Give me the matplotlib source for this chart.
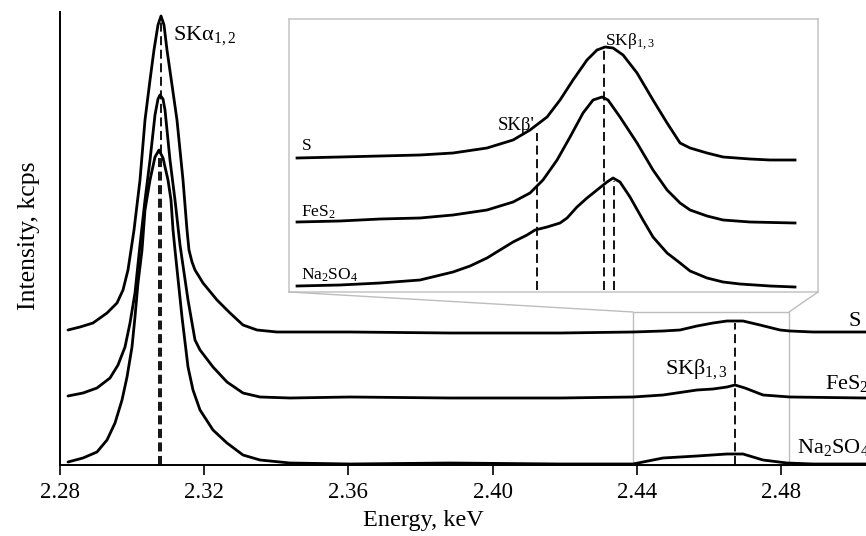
import numpy as np
import matplotlib
matplotlib.use("Agg")
import matplotlib.pyplot as plt
from matplotlib.patches import Rectangle, ConnectionPatch

plt.rcParams['font.family'] = 'Liberation Serif'
plt.rcParams['mathtext.fontset'] = 'custom'
plt.rcParams['mathtext.rm'] = 'Liberation Serif'
plt.rcParams['mathtext.it'] = 'Liberation Serif:italic'
plt.rcParams['mathtext.bf'] = 'Liberation Serif:bold'

# ---- survey spectra (Ka + Kb region), energy in keV, intensity in a.u. ----
s_energy = [2.28222, 2.28555, 2.28915, 2.29304, 2.29581, 2.29748, 2.29886, 2.29970,
            2.30053, 2.30219, 2.30358, 2.30497, 2.30607, 2.30718, 2.30802, 2.30885,
            2.30968, 2.31107, 2.31245, 2.31412, 2.31523, 2.31578, 2.31662, 2.31745,
            2.31967, 2.32355, 2.32716, 2.33076, 2.33465, 2.34019, 2.36044, 2.38818,
            2.41870, 2.43895, 2.44727, 2.45198, 2.45670, 2.46114, 2.46502, 2.46946,
            2.47417, 2.47972, 2.48250, 2.48888, 2.50358]
s_int = [0.2, 0.5, 0.9, 1.9, 2.9, 4.2, 6.2, 8.2,
         10.2, 15.2, 21.2, 25.2, 28.2, 30.7, 31.6, 30.7,
         28.2, 24.7, 21.2, 15.2, 10.2, 8.2, 7.0, 6.2,
         4.9, 3.2, 1.9, 0.7, 0.2, 0.0, 0.0, -0.1,
         -0.1, 0.0, 0.1, 0.2, 0.6, 0.9, 1.1, 1.1,
         0.7, 0.2, 0.1, 0.0, 0.0]

fes2_energy = [2.28222, 2.28638, 2.29026, 2.29387, 2.29609, 2.29803, 2.29942, 2.30080,
               2.30219, 2.30358, 2.30497, 2.30635, 2.30718, 2.30774, 2.30857, 2.30913,
               2.31051, 2.31190, 2.31329, 2.31551, 2.31745, 2.31884, 2.32244, 2.32632,
               2.33076, 2.33548, 2.34380, 2.36044, 2.38818, 2.41870, 2.43895, 2.44727,
               2.45670, 2.46114, 2.46502, 2.46724, 2.47001, 2.47501, 2.48250, 2.50358]
fes2_int = [0.1, 0.4, 0.9, 1.9, 3.2, 5.0, 7.4, 10.4,
            15.2, 19.7, 23.7, 28.2, 29.8, 30.2, 29.8, 28.7,
            23.7, 19.7, 15.2, 9.7, 5.7, 4.7, 3.0, 1.5,
            0.4, 0.0, -0.1, 0.0, -0.1, -0.1, 0.0, 0.2,
            0.7, 0.8, 1.0, 1.2, 0.9, 0.2, 0.0, -0.1]

na2so4_energy = [2.28222, 2.28638, 2.29026, 2.29304, 2.29526, 2.29720, 2.29859, 2.29997,
                 2.30080, 2.30164, 2.30275, 2.30358, 2.30497, 2.30635, 2.30746, 2.30857,
                 2.30996, 2.31079, 2.31135, 2.31190, 2.31384, 2.31551, 2.31689, 2.31884,
                 2.32244, 2.32632, 2.33076, 2.33548, 2.34380, 2.36044, 2.38818, 2.41870,
                 2.43895, 2.44727, 2.45670, 2.46502, 2.46946, 2.47501, 2.48166, 2.48888,
                 2.50358]
na2so4_int = [0.2, 0.6, 1.2, 2.4, 4.1, 6.4, 8.7, 11.7,
              14.7, 18.1, 21.4, 25.4, 28.4, 30.7, 31.4, 30.6,
              28.4, 26.4, 23.4, 21.4, 14.7, 9.7, 7.4, 5.4,
              3.4, 2.1, 0.9, 0.4, 0.1, 0.0, 0.1, 0.0,
              0.0, 0.6, 0.8, 1.0, 1.0, 0.4, 0.1, 0.0,
              0.0]

# vertical shift of each spectrum
offsets = {'S': 13.3, 'FeS2': 6.8, 'Na2SO4': 0.1}

# ---- Kb region, detailed scan ----
kb_s_energy = [2.43950, 2.44341, 2.44705, 2.45068, 2.45368, 2.45677, 2.45914, 2.46068,
               2.46223, 2.46341, 2.46459, 2.46586, 2.46677, 2.46750, 2.46823, 2.46914,
               2.47041, 2.47186, 2.47314, 2.47432, 2.47523, 2.47677, 2.47823, 2.48068,
               2.48250, 2.48477]
kb_s_int = [0.2, 0.3, 0.4, 0.5, 0.7, 1.2, 2.0, 3.0,
            4.3, 6.0, 8.0, 10.0, 11.0, 11.3, 11.2, 10.5,
            8.7, 6.0, 3.7, 1.7, 1.2, 0.7, 0.3, 0.1,
            0.0, 0.0]

kb_fes2_energy = [2.43950, 2.44341, 2.44705, 2.45068, 2.45368, 2.45677, 2.45914, 2.46068,
                  2.46186, 2.46314, 2.46432, 2.46550, 2.46641, 2.46723, 2.46777, 2.46886,
                  2.47041, 2.47186, 2.47314, 2.47432, 2.47523, 2.47677, 2.47823, 2.48068,
                  2.48477]
kb_fes2_int = [0.1, 0.2, 0.4, 0.5, 0.8, 1.3, 2.1, 3.0,
               4.3, 6.3, 8.6, 11.0, 12.3, 12.6, 12.3, 10.6,
               8.0, 5.3, 3.3, 2.0, 1.3, 0.7, 0.3, 0.1,
               0.0]

kb_na2so4_energy = [2.43950, 2.44341, 2.44705, 2.45068, 2.45368, 2.45523, 2.45677, 2.45795,
                    2.45914, 2.46041, 2.46114, 2.46223, 2.46341, 2.46405, 2.46495, 2.46586,
                    2.46677, 2.46768, 2.46823, 2.46886, 2.46977, 2.47095, 2.47186, 2.47314,
                    2.47432, 2.47523, 2.47677, 2.47823, 2.47977, 2.48250, 2.48477]
kb_na2so4_int = [0.1, 0.2, 0.4, 0.7, 1.5, 2.1, 2.9, 3.7,
                 4.5, 5.2, 5.7, 6.0, 6.4, 6.9, 8.0, 8.9,
                 9.7, 10.5, 10.9, 10.5, 9.0, 6.7, 5.0, 3.4,
                 2.4, 1.6, 0.9, 0.5, 0.3, 0.1, 0.0]

kb_offsets = {'S': 13.2, 'FeS2': 6.9, 'Na2SO4': 0.5}

# line positions, keV
ka_s = 2.30802
ka_na2so4 = 2.30746
kb_main = 2.46724
kb_prime = 2.46132
kb13_s = 2.46740
kb13_na2so4 = 2.46832

# zoomed window shown in the inset
zoom_e = (2.43895, 2.48222)
zoom_top = 15.3

spectra = [(s_energy, s_int, 'S'), (fes2_energy, fes2_int, 'FeS2'),
           (na2so4_energy, na2so4_int, 'Na2SO4')]
kb_spectra = [(kb_s_energy, kb_s_int, 'S'), (kb_fes2_energy, kb_fes2_int, 'FeS2'),
              (kb_na2so4_energy, kb_na2so4_int, 'Na2SO4')]

fig = plt.figure(figsize=(8.66, 5.36), dpi=100)
ax = fig.add_axes([60 / 866, 71 / 536, 806 / 866, 453 / 536])

lw = 2.0
dash_kw = dict(color='black', lw=1.3, dashes=(5, 2.5))

shifted = {}
for e, i, name in spectra:
    y = np.array(i) + offsets[name]
    shifted[name] = (np.array(e), y)
    ax.plot(e, y, color='black', lw=lw, solid_joinstyle='round',
            solid_capstyle='round', clip_on=False)

# dashed markers for the Ka and Kb lines
s_e, s_y = shifted['S']
na_e, na_y = shifted['Na2SO4']
ax.plot([ka_s, ka_s], [0, s_y.max()], **dash_kw)
ax.plot([ka_na2so4, ka_na2so4], [0, na_y.max()], **dash_kw)
ax.plot([kb_main, kb_main], [0, np.interp(kb_main, s_e, s_y) - 0.2], **dash_kw)

ax.set_xlim(2.28, 2.50358)
ax.set_ylim(0, 45.3)
ax.set_xticks([2.28, 2.32, 2.36, 2.40, 2.44, 2.48])
ax.set_xticklabels(['2.28', '2.32', '2.36', '2.40', '2.44', '2.48'])
ax.tick_params(axis='x', direction='out', length=7, width=1.2, labelsize=16.5, pad=5)
ax.set_yticks([])
for side in ('top', 'right'):
    ax.spines[side].set_visible(False)
ax.spines['left'].set_linewidth(1.4)
ax.spines['bottom'].set_linewidth(1.4)

ax.set_xlabel('Energy, keV', fontsize=17.5)
ax.xaxis.set_label_coords((423 - 60) / 806, -0.1)
ax.set_ylabel('Intensity, kcps', fontsize=18.5)
ax.yaxis.set_label_coords(-0.025, 0.505)

ax.text(2.31135, 42.9, r'SKα$_{1,2}$', fontsize=16, va='center', ha='left')
ax.text(2.4653, 9.6, r'SKβ$_{1,3}$', fontsize=16, va='center', ha='right')
ax.text(2.49859, 14.3, 'S', fontsize=16, va='center', ha='left', clip_on=False)
ax.text(2.49221, 8.1, r'FeS$_2$', fontsize=16, va='center', ha='left', clip_on=False)
ax.text(2.48444, 1.8, r'Na$_2$SO$_4$', fontsize=16, va='center', ha='left', clip_on=False)

# frame around the zoomed Kb window
grey = '#bdbdbd'
ax.add_patch(Rectangle((zoom_e[0], 0), zoom_e[1] - zoom_e[0], zoom_top,
                       fill=False, edgecolor=grey, lw=1.0, clip_on=False, zorder=1))

# inset with the detailed Kb scan
axin = fig.add_axes([289 / 866, 244 / 536, 529 / 866, 273 / 536])
axin.set_facecolor('white')
for sp in axin.spines.values():
    sp.set_edgecolor('#c8c8c8')
    sp.set_linewidth(1.2)
axin.set_xticks([])
axin.set_yticks([])
axin.set_xlim(2.43877, 2.48686)
axin.set_ylim(0, 27.3)

kb_shifted = {}
for e, i, name in kb_spectra:
    y = np.array(i) + kb_offsets[name]
    kb_shifted[name] = (np.array(e), y)
    axin.plot(e, y, color='black', lw=lw, solid_joinstyle='round')

ks_e, ks_y = kb_shifted['S']
kn_e, kn_y = kb_shifted['Na2SO4']
axin.plot([kb_prime, kb_prime], [0.2, np.interp(kb_prime, ks_e, ks_y) - 0.8], **dash_kw)
axin.plot([kb13_s, kb13_s], [0.2, ks_y.max()], **dash_kw)
axin.plot([kb13_na2so4, kb13_na2so4], [0.2, np.interp(kb13_na2so4, kn_e, kn_y) - 0.2], **dash_kw)

axin.text(2.43995, 14.6, 'S', fontsize=12.5, va='center', ha='left')
axin.text(2.43986, 8.0, r'FeS$_2$', fontsize=12.5, va='center', ha='left')
axin.text(2.43986, 1.7, r'Na$_2$SO$_4$', fontsize=12.5, va='center', ha='left')
axin.text(2.46114, 16.7, "SKβ'", fontsize=13.5, va='center', ha='right')
axin.text(2.4675, 25.0, r'SKβ$_{1,3}$', fontsize=12.5, va='center', ha='left')

# connectors from the inset corners to the zoom frame
for corner, ex in [((0, 0), zoom_e[0]), ((1, 0), zoom_e[1])]:
    con = ConnectionPatch(xyA=corner, coordsA=axin.transAxes,
                          xyB=(ex, zoom_top), coordsB=ax.transData,
                          color=grey, lw=1.0)
    fig.add_artist(con)

fig.savefig('out.png', dpi=100)
